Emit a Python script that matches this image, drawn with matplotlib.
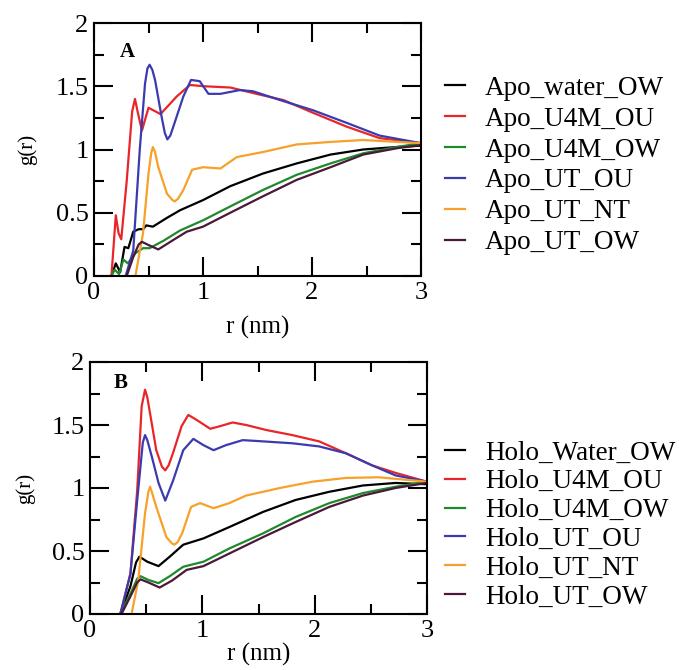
import numpy as np
import matplotlib
matplotlib.use('Agg')
import matplotlib.pyplot as plt
from matplotlib.ticker import MultipleLocator

plt.rcParams['font.family'] = ['Liberation Serif', 'DejaVu Serif']

# ---- panel A (Apo) ----
apo_water_ow_r = [0.16, 0.20, 0.24, 0.28, 0.315, 0.36, 0.41, 0.45, 0.48, 0.54, 0.67, 0.79, 1.0, 1.25, 1.55, 1.86, 2.17, 2.47, 2.78, 3.0]
apo_water_ow_g = [0.0, 0.10, 0.03, 0.23, 0.22, 0.35, 0.37, 0.37, 0.40, 0.39, 0.46, 0.52, 0.60, 0.71, 0.81, 0.89, 0.96, 1.00, 1.02, 1.03]

apo_u4m_ou_r = [0.16, 0.20, 0.225, 0.25, 0.30, 0.35, 0.376, 0.40, 0.44, 0.50, 0.61, 0.76, 0.88, 1.01, 1.25, 1.49, 1.74, 2.01, 2.32, 2.62, 3.0]
apo_u4m_ou_g = [0.0, 0.48, 0.34, 0.29, 0.75, 1.30, 1.40, 1.30, 1.15, 1.33, 1.28, 1.42, 1.51, 1.50, 1.49, 1.44, 1.39, 1.29, 1.18, 1.09, 1.05]

apo_u4m_ow_r = [0.16, 0.19, 0.23, 0.27, 0.31, 0.38, 0.45, 0.51, 0.64, 0.79, 1.0, 1.25, 1.55, 1.86, 2.17, 2.47, 2.78, 3.0]
apo_u4m_ow_g = [0.0, 0.05, 0.015, 0.13, 0.10, 0.18, 0.22, 0.22, 0.28, 0.36, 0.44, 0.55, 0.68, 0.80, 0.89, 0.97, 1.02, 1.05]

apo_ut_ou_r = [0.29, 0.36, 0.42, 0.468, 0.49, 0.51, 0.535, 0.56, 0.62, 0.65, 0.673, 0.70, 0.743, 0.82, 0.89, 0.97, 1.05, 1.16, 1.34, 1.46, 1.71, 2.01, 2.32, 2.62, 3.0]
apo_ut_ou_g = [0.0, 0.20, 1.00, 1.52, 1.64, 1.67, 1.63, 1.55, 1.26, 1.13, 1.08, 1.11, 1.22, 1.42, 1.55, 1.54, 1.44, 1.44, 1.47, 1.46, 1.39, 1.31, 1.21, 1.11, 1.05]

apo_ut_nt_r = [0.38, 0.45, 0.50, 0.525, 0.54, 0.56, 0.59, 0.67, 0.72, 0.74, 0.77, 0.82, 0.90, 1.0, 1.16, 1.31, 1.55, 1.86, 2.17, 2.47, 2.78, 3.0]
apo_ut_nt_g = [0.0, 0.34, 0.81, 0.97, 1.02, 0.98, 0.86, 0.65, 0.60, 0.59, 0.61, 0.68, 0.84, 0.86, 0.85, 0.94, 0.98, 1.04, 1.06, 1.075, 1.06, 1.05]

apo_ut_ow_r = [0.30, 0.36, 0.41, 0.44, 0.50, 0.59, 0.70, 0.85, 1.0, 1.25, 1.55, 1.86, 2.17, 2.47, 2.78, 3.0]
apo_ut_ow_g = [0.0, 0.15, 0.25, 0.27, 0.245, 0.21, 0.27, 0.35, 0.39, 0.50, 0.63, 0.76, 0.86, 0.96, 1.01, 1.035]

# ---- panel B (Holo) ----
holo_water_ow_r = [0.27, 0.36, 0.41, 0.44, 0.51, 0.61, 0.71, 0.83, 1.01, 1.24, 1.54, 1.83, 2.13, 2.43, 2.72, 3.0]
holo_water_ow_g = [0.0, 0.22, 0.41, 0.455, 0.415, 0.38, 0.455, 0.55, 0.60, 0.69, 0.81, 0.905, 0.97, 1.02, 1.04, 1.03]

holo_u4m_ou_r = [0.27, 0.36, 0.42, 0.46, 0.49, 0.51, 0.535, 0.59, 0.64, 0.67, 0.70, 0.74, 0.815, 0.875, 0.95, 1.07, 1.155, 1.27, 1.39, 1.57, 1.80, 2.04, 2.28, 2.51, 2.72, 3.0]
holo_u4m_ou_g = [0.0, 0.32, 0.98, 1.65, 1.78, 1.72, 1.59, 1.30, 1.17, 1.14, 1.18, 1.28, 1.49, 1.58, 1.54, 1.47, 1.49, 1.52, 1.50, 1.46, 1.42, 1.37, 1.275, 1.18, 1.12, 1.05]

holo_u4m_ow_r = [0.27, 0.36, 0.42, 0.45, 0.52, 0.61, 0.71, 0.83, 1.01, 1.24, 1.54, 1.83, 2.13, 2.43, 2.72, 3.0]
holo_u4m_ow_g = [0.0, 0.16, 0.28, 0.30, 0.27, 0.245, 0.30, 0.375, 0.415, 0.52, 0.64, 0.77, 0.88, 0.96, 1.01, 1.05]

holo_ut_ou_r = [0.27, 0.36, 0.42, 0.47, 0.49, 0.51, 0.55, 0.61, 0.67, 0.74, 0.83, 0.92, 1.01, 1.10, 1.21, 1.36, 1.54, 1.80, 2.04, 2.28, 2.51, 2.72, 3.0]
holo_ut_ou_g = [0.0, 0.32, 0.90, 1.36, 1.42, 1.38, 1.25, 1.04, 0.90, 1.06, 1.30, 1.39, 1.34, 1.30, 1.34, 1.38, 1.37, 1.355, 1.33, 1.275, 1.18, 1.10, 1.05]

holo_ut_nt_r = [0.37, 0.43, 0.49, 0.52, 0.535, 0.55, 0.59, 0.68, 0.73, 0.75, 0.78, 0.82, 0.90, 0.98, 1.10, 1.24, 1.39, 1.69, 1.98, 2.28, 2.57, 3.0]
holo_ut_nt_g = [0.0, 0.27, 0.80, 0.97, 1.01, 0.97, 0.85, 0.61, 0.56, 0.55, 0.57, 0.64, 0.85, 0.88, 0.84, 0.88, 0.94, 1.00, 1.05, 1.08, 1.085, 1.05]

holo_ut_ow_r = [0.28, 0.36, 0.42, 0.45, 0.52, 0.62, 0.73, 0.86, 1.01, 1.24, 1.54, 1.83, 2.13, 2.43, 2.72, 3.0]
holo_ut_ow_g = [0.0, 0.14, 0.25, 0.275, 0.25, 0.21, 0.265, 0.35, 0.38, 0.48, 0.61, 0.73, 0.85, 0.94, 1.00, 1.04]

apo_labels = ['Apo_water_OW', 'Apo_U4M_OU', 'Apo_U4M_OW', 'Apo_UT_OU', 'Apo_UT_NT', 'Apo_UT_OW']
holo_labels = ['Holo_Water_OW', 'Holo_U4M_OU', 'Holo_U4M_OW', 'Holo_UT_OU', 'Holo_UT_NT', 'Holo_UT_OW']
colors = ['#000000', '#e8262a', '#1f8a2c', '#3b3bb0', '#f7a02a', '#4a1838']

apo = [(apo_water_ow_r, apo_water_ow_g), (apo_u4m_ou_r, apo_u4m_ou_g), (apo_u4m_ow_r, apo_u4m_ow_g),
       (apo_ut_ou_r, apo_ut_ou_g), (apo_ut_nt_r, apo_ut_nt_g), (apo_ut_ow_r, apo_ut_ow_g)]
holo = [(holo_water_ow_r, holo_water_ow_g), (holo_u4m_ou_r, holo_u4m_ou_g), (holo_u4m_ow_r, holo_u4m_ow_g),
        (holo_ut_ou_r, holo_ut_ou_g), (holo_ut_nt_r, holo_ut_nt_g), (holo_ut_ow_r, holo_ut_ow_g)]

fig = plt.figure(figsize=(6.79, 6.70), dpi=100)
ax1 = fig.add_axes([94/679, 1 - 276/670, 327/679, 253/670])
ax2 = fig.add_axes([90/679, 1 - 614/670, 337/679, 252/670])


def style(ax, letter, lx, ly, xpad, ypad):
    ax.set_xlim(0, 3)
    ax.set_ylim(0, 2)
    ax.xaxis.set_major_locator(MultipleLocator(1))
    ax.xaxis.set_minor_locator(MultipleLocator(0.5))
    ax.yaxis.set_minor_locator(MultipleLocator(0.25))
    ax.set_yticks([0, 0.5, 1, 1.5, 2])
    ax.set_yticklabels(['0', '0.5', '1', '1.5', '2'])
    ax.tick_params(which='both', direction='in', top=True, right=True, width=1.5, labelsize=19, pad=4)
    ax.tick_params(which='major', length=14)
    ax.tick_params(which='minor', length=7)
    for s in ax.spines.values():
        s.set_linewidth(1.5)
    ax.set_xlabel('r (nm)', fontsize=18, labelpad=xpad)
    ax.set_ylabel('g(r)', fontsize=15, labelpad=ypad)
    ax.text(lx, ly, letter, fontsize=15, fontweight='bold', ha='center', va='center')


for (r, g), c, lab in zip(apo, colors, apo_labels):
    ax1.plot(r, g, color=c, lw=1.6, label=lab)
for (r, g), c, lab in zip(holo, colors, holo_labels):
    ax2.plot(r, g, color=c, lw=1.6, label=lab)

style(ax1, 'A', 0.31, 1.77, 9, 13)
style(ax2, 'B', 0.27, 1.83, 1, 12)

for ax, yc, ls in [(ax1, 1 - 165.5/670, 0.22), (ax2, 1 - 525/670, 0.14)]:
    fig.legend(handles=ax.get_lines(), loc='center left', bbox_to_anchor=(445/679, yc),
               frameon=False, fontsize=19.5, handlelength=0.74, handletextpad=0.74,
               labelspacing=ls, borderpad=0, borderaxespad=0)

fig.savefig('out.png', dpi=100)
